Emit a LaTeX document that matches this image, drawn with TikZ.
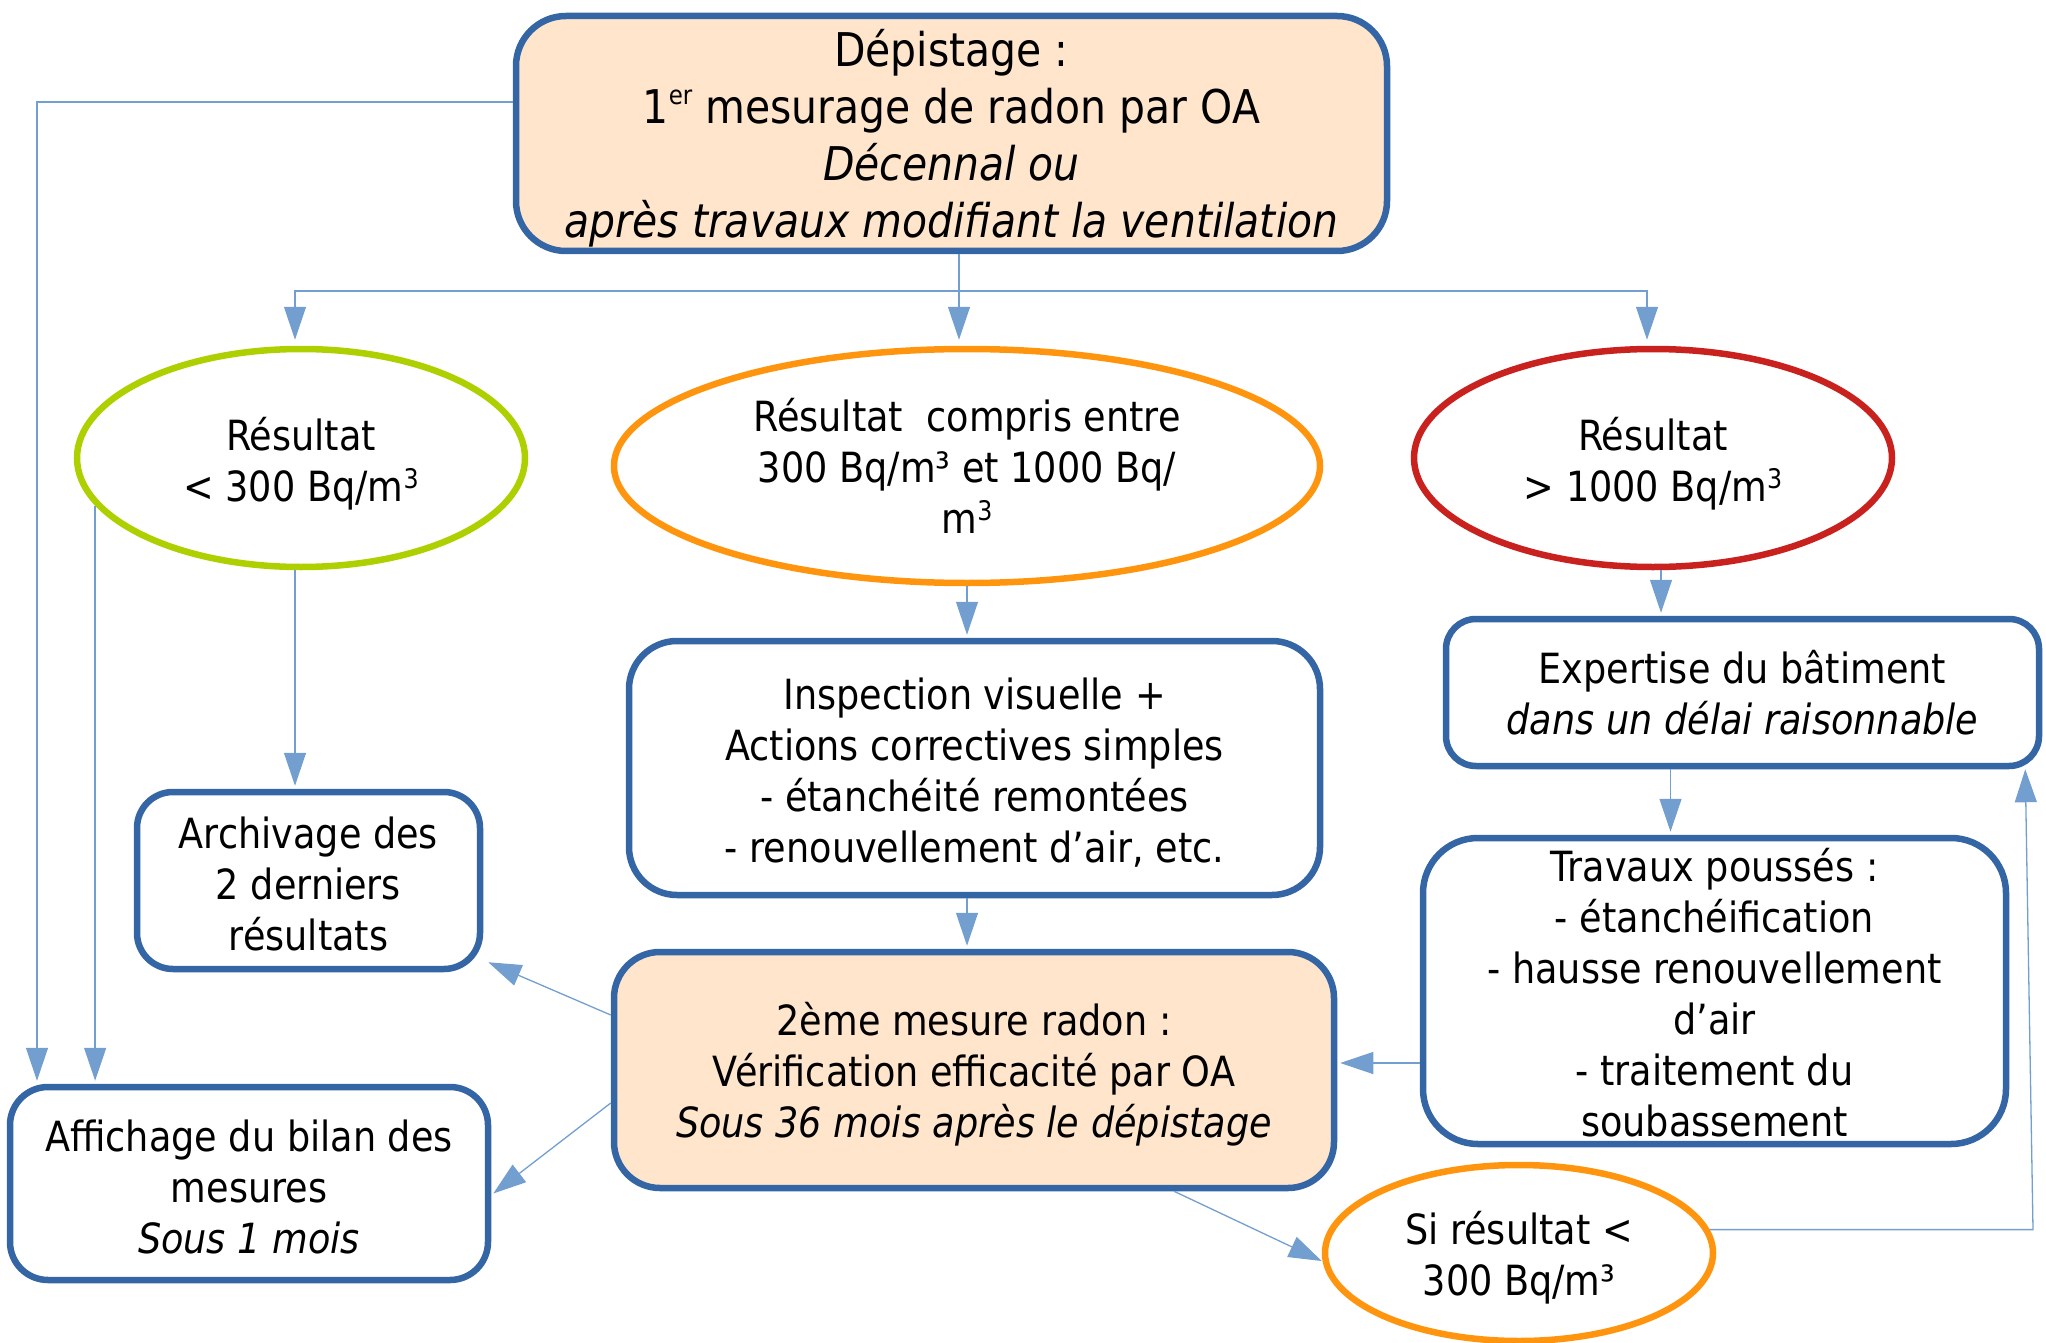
\documentclass[tikz,border=0pt]{standalone}
\usepackage{fontspec}
\setmainfont{DejaVu Sans}[FakeStretch=0.88]
\usetikzlibrary{shapes.geometric,arrows.meta}
\definecolor{bblue}{HTML}{3465A4}
\definecolor{peach}{HTML}{FFE5CC}
\definecolor{lgreen}{HTML}{AECF00}
\definecolor{orng}{HTML}{FF950E}
\definecolor{dred}{HTML}{C9211E}
\definecolor{arrc}{HTML}{729FCF}
\newcommand\normtext{\fontsize{41.6}{51}\selectfont}
\newcommand\bigtext{\fontsize{46.5}{57}\selectfont}
\newcommand\supn[1]{\raisebox{13pt}{\fontsize{27}{27}\selectfont #1}}
\newcommand\supb[1]{\raisebox{19pt}{\fontsize{26}{26}\selectfont #1}}
\tikzset{
  box/.style={draw=bblue, line width=6.5pt, rounded corners=#1, inner sep=0pt},
  box/.default=40pt,
  ell/.style={ellipse, line width=6.5pt, inner sep=0pt},
  txt/.style={inner sep=0pt, align=center, font=\normtext},
  arr/.style={draw=arrc, line width=1.3pt, -{Triangle[length=33pt,width=22pt]}},
  conn/.style={draw=arrc, line width=1.3pt}
}
\begin{document}
\begin{tikzpicture}[x=1pt,y=-1pt]
\useasboundingbox (0,0) rectangle (2046,1343);
% boxes
\node[box=50pt, fill=peach, minimum width=871pt, minimum height=235pt] (top) at (951.5,133.5) {};
\node[txt, font=\bigtext] (tTop) at ([yshift=-5pt]top.center)
  {Dépistage :\\1\supb{er} mesurage de radon par OA\\\textit{Décennal ou}\\\textit{après travaux modifiant la ventilation}};
\node[box=48pt, minimum width=691pt, minimum height=254pt] (insp) at (974.5,768) {};
\node[txt] (tInsp) at ([yshift=-5pt]insp.center)
  {Inspection visuelle +\\Actions correctives simples\\- étanchéité remontées\\- renouvellement d’air, etc.};
\node[box=46pt, fill=peach, minimum width=720pt, minimum height=236pt] (m2) at (974,1070) {};
\node[txt] (tM2) at ([yshift=-4pt]m2.center)
  {2ème mesure radon :\\Vérification efficacité par OA\\\textit{Sous 36 mois après le dépistage}};
\node[box=36pt, minimum width=343pt, minimum height=177pt] (arch) at (308.5,880.5) {};
\node[txt] (tArch) at ([yshift=-3pt]arch.center)
  {Archivage des\\2 derniers\\résultats};
\node[box=38pt, minimum width=478pt, minimum height=193pt] (aff) at (249,1183.5) {};
\node[txt] (tAff) at ([yshift=-3pt]aff.center)
  {Affichage du bilan des\\mesures\\\textit{Sous 1 mois}};
\node[box=30pt, minimum width=593pt, minimum height=147pt] (exp) at (1742.5,692.5) {};
\node[txt] (tExp) at (exp.center)
  {Expertise du bâtiment\\\textit{dans un délai raisonnable}};
\node[box=55pt, minimum width=583pt, minimum height=306pt] (trav) at (1714.5,991) {};
\node[txt] (tTrav) at ([yshift=-2pt]trav.center)
  {Travaux poussés :\\- étanchéification\\- hausse renouvellement\\d’air\\- traitement du\\soubassement};
% ellipses
\node[ell, draw=lgreen, minimum width=448pt, minimum height=218pt] (ellL) at (301,458) {};
\node[txt] (tL) at ([yshift=-6pt]ellL.center) {Résultat\\< 300 Bq/m\supn{3}};
\node[ell, draw=orng, minimum width=706pt, minimum height=234pt] (ellC) at (967,466) {};
\node[txt] (tC) at (ellC.center) {Résultat\ \ compris entre\\300 Bq/m³ et 1000 Bq/\\m\supn{3}};
\node[ell, draw=dred, minimum width=478pt, minimum height=218pt] (ellR) at (1653,458) {};
\node[txt] (tR) at ([yshift=-6pt]ellR.center) {Résultat\\> 1000 Bq/m\supn{3}};
\node[ell, draw=orng, minimum width=388pt, minimum height=176pt] (si) at (1519,1253) {};
\node[txt] (tS) at ([yshift=-5pt]si.center) {Si résultat <\\300 Bq/m³};
% connectors
\coordinate (split) at (959,291);
\coordinate (bend) at (2033,1229);
\draw[conn] (top.south -| split) -- (split);
\draw[arr] (split) -| ([xshift=-6pt,yshift=6pt]ellL.north);
\draw[arr] (split) -| ([xshift=-6pt,yshift=6pt]ellR.north);
\draw[arr] (split) -- ([yshift=6pt]split |- ellC.north);
\draw[arr] ([yshift=31.5pt]top.west) -| ([xshift=-212pt,yshift=3pt]aff.north);
\draw[arr] (ellL.193.5) -- ([yshift=3pt]ellL.193.5 |- aff.north);
\draw[arr] ([xshift=-6pt]ellL.south) -- ([xshift=-6pt,yshift=3pt]ellL.south |- arch.north);
\draw[arr] (ellC.south) -- ([yshift=3pt]ellC.south |- insp.north);
\draw[arr] (insp.south -| ellC.south) -- ([yshift=3pt]ellC.south |- m2.north);
\draw[arr] ([xshift=8pt]ellR.south) -- ([xshift=8pt,yshift=3pt]ellR.south |- exp.north);
\draw[arr] ([xshift=-72pt]exp.south) -- ([xshift=-72pt,yshift=3pt]exp.south |- trav.north);
\draw[arr] ([yshift=-72pt]trav.west) -- ([xshift=3pt,yshift=-72pt]trav.west -| m2.east);
\draw[arr] ([yshift=55pt]m2.west) -- ([xshift=5pt,yshift=10pt]arch.south east);
\draw[arr] ([yshift=-33pt]m2.west) -- ([xshift=2pt,yshift=-10pt]aff.east);
\draw[arr] ([xshift=200pt]m2.south) -- ([yshift=-8pt]si.west);
\draw[arr] (si.7) -- (si.7 -| bend) -- ([xshift=-17pt]exp.south east);
\end{tikzpicture}
\end{document}
